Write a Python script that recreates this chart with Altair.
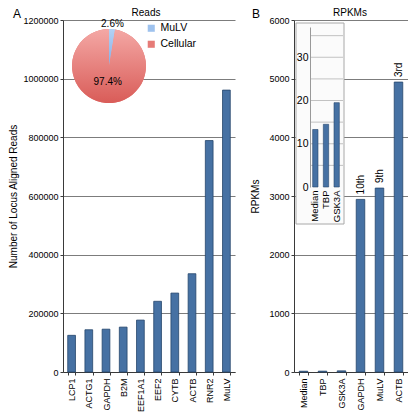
import altair as alt
import pandas as pd

# ---------------- data ----------------
genes_a = ["LCP1", "ACTG1", "GAPDH", "B2M", "EEF1A1", "EEF2", "CYTB", "ACTB", "RNR2", "MuLV"]
reads_a = [125000, 144000, 146000, 153000, 177000, 241000, 269000, 335000, 789000, 961000]

pie_slices = ["MuLV", "Cellular"]
pie_pct = [2.6, 97.4]

genes_b = ["Median", "TBP", "GSK3A", "GAPDH", "MuLV", "ACTB"]
rpkm_b = [13.3, 14.5, 19.5, 2942, 3135, 4942]
rank_b = ["", "", "", "10th", "9th", "3rd"]

inset_genes = ["Median", "TBP", "GSK3A"]
inset_rpkm = [13.3, 14.5, 19.5]
inset_grid = [5, 10, 15, 20, 25, 30, 35]

panel_letters = ["A", "B"]
panel_titles = ["Reads", "RPKMs"]

# ---------------- style ----------------
FONT = "Liberation Sans"
BAR = "#4671a3"
EDGE = "#26466c"
BLUE = "#9ec2ee"
RED = "#e67b77"
GRID = "#7c7c7c"
W_A, W_B, H = 172, 114, 352
INS0 = 167  # inset zero line, px from plot top

RED_GRAD = {"gradient": "linear", "x1": 0, "y1": 0, "x2": 0, "y2": 1,
            "stops": [{"offset": 0, "color": "#f4a8a5"}, {"offset": 1, "color": "#d95c58"}]}
BLUE_GRAD = {"gradient": "linear", "x1": 0, "y1": 0, "x2": 0, "y2": 1,
             "stops": [{"offset": 0, "color": "#b4d2f4"}, {"offset": 1, "color": "#84aee6"}]}

ann = pd.DataFrame({"k": [0]})


def label(text, x, y, size, align="center"):
    return alt.Chart(pd.DataFrame({"t": [text]})).mark_text(
        fontSize=size, font=FONT, align=align, baseline="middle", color="black"
    ).encode(text="t:N", x=alt.value(x), y=alt.value(y))


xaxis_common = dict(title=None, labelAngle=-90, tickBand="extent", grid=False,
                    labelAlign="right", labelBaseline="middle", labelPadding=3,
                    tickSize=3, labelFontSize=9)

# ---------------- panel A ----------------
dfa = pd.DataFrame({"gene": genes_a, "reads": reads_a})
bars_a = alt.Chart(dfa).mark_bar(color=BAR, stroke=EDGE, strokeWidth=0.8).encode(
    x=alt.X("gene:N", sort=genes_a,
            scale=alt.Scale(paddingInner=0.55, paddingOuter=0.275),
            axis=alt.Axis(**xaxis_common)),
    y=alt.Y("reads:Q", scale=alt.Scale(domain=[0, 1200000]),
            axis=alt.Axis(title="Number of Locus Aligned Reads",
                          values=list(range(0, 1200001, 200000)), format="d",
                          grid=True, tickSize=3, labelPadding=2, titlePadding=4,
                          labelFontSize=9, titleFontSize=10)),
)

dfp = pd.DataFrame({"slice": pie_slices, "pct": pie_pct})
pie_base = alt.Chart(dfp).transform_calculate(
    lbl="format(datum.pct, '.1f') + '%'"
).encode(
    theta=alt.Theta("pct:Q", stack=True),
    order=alt.Order("pct:Q", sort="ascending"),
    x=alt.value(46), y=alt.value(46),
)
pie = pie_base.mark_arc(outerRadius=37, strokeWidth=0).encode(
    color=alt.Color("slice:N", scale=alt.Scale(domain=pie_slices, range=[BLUE, RED]),
                    legend=alt.Legend(title=None, orient="none", legendX=83, legendY=3,
                                      symbolType="square", symbolSize=50,
                                      symbolStrokeWidth=0, labelFontSize=10.5,
                                      labelFont=FONT, rowPadding=5))
)
pie_shade = pie_base.mark_arc(outerRadius=37, strokeWidth=0).encode(
    fill=alt.condition("datum.slice == 'Cellular'", alt.value(RED_GRAD), alt.value(BLUE_GRAD))
)
pie_out = pie_base.mark_text(radius=42, fontSize=10, font=FONT, color="black").encode(
    text=alt.condition("datum.slice == 'MuLV'", alt.Text("lbl:N"), alt.value(""))
)
pie_in = pie_base.mark_text(radius=16, fontSize=10, font=FONT, color="black").encode(
    text=alt.condition("datum.slice == 'Cellular'", alt.Text("lbl:N"), alt.value(""))
)

chart_a = alt.layer(
    bars_a, pie, pie_shade, pie_out, pie_in,
    label(panel_letters[0], -50, -6, 12, "left"),
    label(panel_titles[0], 83, -7, 10),
).properties(width=W_A, height=H)

# ---------------- panel B ----------------
dfb = pd.DataFrame({"gene": genes_b, "rpkm": rpkm_b, "rank": rank_b})
xb_scale = alt.Scale(domain=genes_b, paddingInner=0.55, paddingOuter=0.275)
yb_scale = alt.Scale(domain=[0, 6000])

bars_b = alt.Chart(dfb).mark_bar(color=BAR, stroke=EDGE, strokeWidth=0.8).encode(
    x=alt.X("gene:N", sort=None, scale=xb_scale, axis=alt.Axis(**xaxis_common)),
    y=alt.Y("rpkm:Q", scale=yb_scale,
            axis=alt.Axis(title="RPKMs", values=list(range(0, 6001, 1000)), format="d",
                          grid=True, tickSize=3, labelPadding=2, titlePadding=8,
                          labelFontSize=9, titleFontSize=10)),
)
ranks = alt.Chart(dfb).mark_text(angle=270, align="left", baseline="middle", dx=5,
                                 fontSize=10, font=FONT, color="black").encode(
    x=alt.X("gene:N", sort=None, scale=xb_scale, axis=None),
    y=alt.Y("rpkm:Q", scale=yb_scale, axis=None),
    text="rank:N",
)

inset_bg = alt.Chart(ann).mark_rect(fill="#fbfbfb", stroke="#a8a8a8", strokeWidth=1).encode(
    x=alt.value(2), x2=alt.value(50), y=alt.value(3), y2=alt.value(204)
)
ins_y = alt.Scale(domain=[0, 37], range=[INS0, 7], nice=False, zero=True)
ins_x = alt.Scale(domain=inset_genes, range=[16, 48], paddingInner=0.5, paddingOuter=0.25)

inset_rules = alt.Chart(pd.DataFrame({"g": inset_grid})).mark_rule(
    color="#b4b4b4", strokeWidth=0.8
).encode(
    y=alt.Y("g:Q", scale=ins_y, axis=None), x=alt.value(16), x2=alt.value(49)
)
dfi = pd.DataFrame({"gene": inset_genes, "rpkm": inset_rpkm})
inset_bars = alt.Chart(dfi).mark_bar(color=BAR, stroke=EDGE, strokeWidth=0.6).encode(
    x=alt.X("gene:N", sort=None, scale=ins_x,
            axis=alt.Axis(orient="bottom", offset=-(H - INS0), title=None, labelAngle=-90,
                          labelAlign="right", labelBaseline="middle", labelPadding=3,
                          ticks=False, domain=False, grid=False, labelFontSize=9.5,
                          zindex=2)),
    y=alt.Y("rpkm:Q", scale=ins_y,
            axis=alt.Axis(orient="left", offset=-16, title=None, values=[0, 10, 20, 30],
                          grid=False, ticks=False, labelPadding=2, domainColor="#999999",
                          labelFontSize=10.5, zindex=2)),
)

chart_b = alt.layer(
    bars_b, ranks, inset_bg, inset_rules, inset_bars,
    label(panel_letters[1], -42, -6, 12, "left"),
    label(panel_titles[1], 56, -7, 10),
).resolve_scale(x="independent", y="independent").properties(width=W_B, height=H)

chart = alt.hconcat(chart_a, chart_b, spacing=15).properties(
    padding={"left": 0, "top": 0, "right": 0, "bottom": 0}
).configure(font=FONT).configure_view(stroke=None).configure_axis(
    labelFont=FONT, titleFont=FONT, labelColor="black", titleColor="black",
    titleFontWeight="normal", domainColor="#3a3a3a", tickColor="#3a3a3a",
    gridColor=GRID, gridWidth=1, domainWidth=1,
)

chart.save("out.html", embed_options={"renderer": "svg", "actions": False})
